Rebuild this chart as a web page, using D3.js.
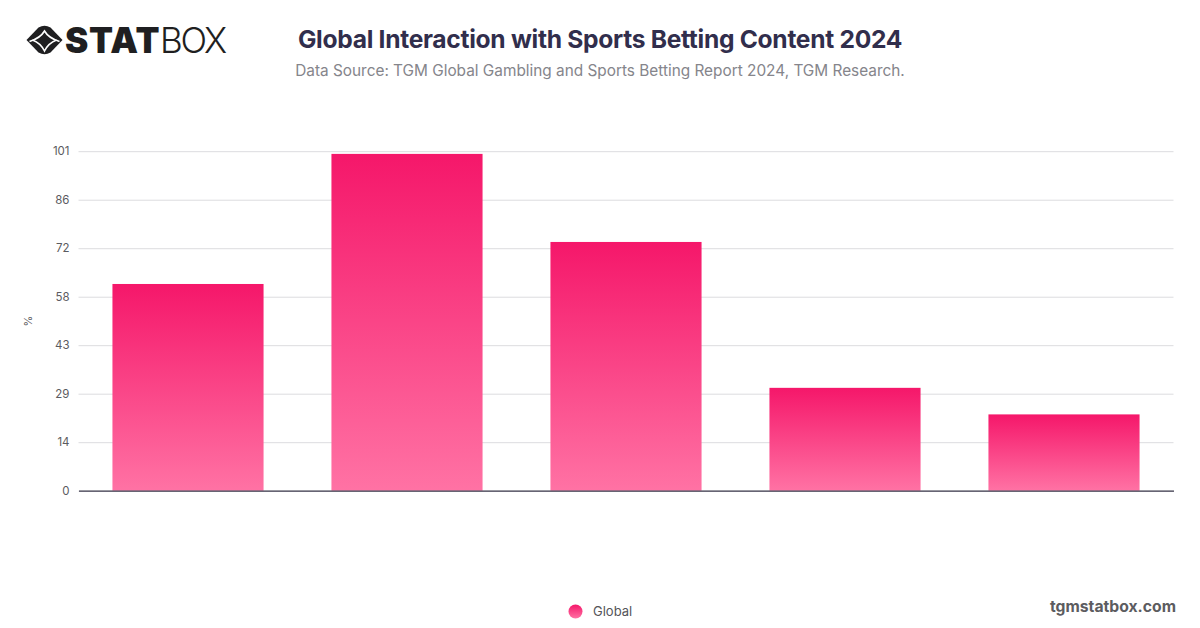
<!DOCTYPE html>
<html>
<head>
<meta charset="utf-8">
<script src="https://cdn.jsdelivr.net/npm/d3@7"></script>
<style>
  html, body { margin: 0; padding: 0; background: #fff; }
  text { font-family: Inter, "Liberation Sans", sans-serif; }
</style>
</head>
<body>
<svg id="chart" width="1200" height="628"></svg>
<script>
// the reference shows no category labels, so these are just bar ids
const categories = ['bar1', 'bar2', 'bar3', 'bar4', 'bar5'];
const globalValues = [61.5, 100.2, 74, 30.6, 22.7];
const tickLabels = ['0', '14', '29', '43', '58', '72', '86', '101'];
const tickValues = [0, 14.43, 28.86, 43.29, 57.71, 72.14, 86.57, 101];

const svg = d3.select('#chart');

const x = d3.scaleBand().domain(categories).range([78.5, 1173.5]).paddingInner(0.31).paddingOuter(0.155);
const y = d3.scaleLinear().domain([0, 101]).range([490.7, 151.2]);

//gradients
const defs = svg.append('defs');
const grad = defs.append('linearGradient').attr('id', 'barGrad')
    .attr('x1', 0).attr('y1', 0).attr('x2', 0).attr('y2', 1);
grad.append('stop').attr('offset', '0%').attr('stop-color', '#f5176a');
grad.append('stop').attr('offset', '100%').attr('stop-color', '#ff72a4');

//title block
svg.append('text')
    .attr('x', 600).attr('y', 48)
    .attr('text-anchor', 'middle')
    .attr('font-size', 24.6).attr('font-weight', 700)
    .attr('letter-spacing', -0.3)
    .attr('fill', '#312e4c')
    .text('Global Interaction with Sports Betting Content 2024');
svg.append('text')
    .attr('x', 600).attr('y', 76)
    .attr('text-anchor', 'middle')
    .attr('font-size', 15.37)
    .attr('fill', '#85858b')
    .text('Data Source: TGM Global Gambling and Sports Betting Report 2024, TGM Research.');

//logo
const logo = svg.append('g').attr('transform', 'translate(44.5,40)');
logo.append('path').attr('d', 'M-18,0 L-6,-12.5 Q0,-16 6,-12.5 L18,0 L6,12.5 Q0,16 -6,12.5 Z').attr('fill', '#1f1f21');
logo.append('path').attr('d', 'M-15,1.5 Q-4,-2 0,-9 Q4,-2 15,1.5').attr('fill', 'none').attr('stroke', '#fff').attr('stroke-width', 1.6);
logo.append('path').attr('d', 'M-12,0 Q-4,3 0,11 Q4,3 12,0').attr('fill', 'none').attr('stroke', '#fff').attr('stroke-width', 1.6);
svg.append('text')
    .attr('x', 65).attr('y', 53)
    .attr('font-size', 35).attr('font-weight', 900)
    .attr('letter-spacing', 0.6)
    .attr('fill', '#1f1f21')
    .text('STAT');
svg.append('text')
    .attr('x', 160).attr('y', 53)
    .attr('font-size', 35).attr('font-weight', 300)
    .attr('letter-spacing', -2.2)
    .attr('fill', '#1f1f21')
    .text('BOX');

//grid and y axis
const yAxis = d3.axisLeft(y)
    .tickValues(tickValues)
    .tickSize(-1095)
    .tickPadding(9)
    .tickFormat((_, i) => tickLabels[i]);
const yG = svg.append('g').attr('transform', 'translate(78.5,0)').call(yAxis);
yG.select('.domain').remove();
yG.selectAll('.tick line').attr('stroke', '#dcdcdf').attr('stroke-width', 1);
yG.selectAll('.tick text')
    .attr('font-size', 11.5).attr('fill', '#5b5b60')
    .style('font-family', 'Inter, "Liberation Sans", sans-serif');

svg.append('text')
    .attr('transform', 'translate(32,321) rotate(-90)')
    .attr('text-anchor', 'middle')
    .attr('font-size', 11).attr('fill', '#5b5b60')
    .text('%');

//bars
svg.append('g').selectAll('rect')
    .data(globalValues)
    .join('rect')
    .attr('x', (_, i) => x(categories[i]))
    .attr('y', d => y(d))
    .attr('width', x.bandwidth())
    .attr('height', d => y(0) - y(d))
    .attr('fill', 'url(#barGrad)');

//baseline
const xAxis = d3.axisBottom(x).tickSize(0).tickFormat('');
const xG = svg.append('g').attr('transform', 'translate(0,490.7)').call(xAxis);
xG.select('.domain').attr('stroke', '#3c3a4c').attr('stroke-width', 1.2);

//legend
svg.append('circle').attr('cx', 575.5).attr('cy', 611.5).attr('r', 7).attr('fill', 'url(#barGrad)');
svg.append('text')
    .attr('x', 593).attr('y', 616)
    .attr('font-size', 13).attr('fill', '#55555a')
    .text('Global');

//site label
svg.append('text')
    .attr('x', 1176).attr('y', 611.5)
    .attr('text-anchor', 'end')
    .attr('font-size', 15.7).attr('font-weight', 700)
    .attr('fill', '#5c5c60')
    .text('tgmstatbox.com');
</script>
</body>
</html>
